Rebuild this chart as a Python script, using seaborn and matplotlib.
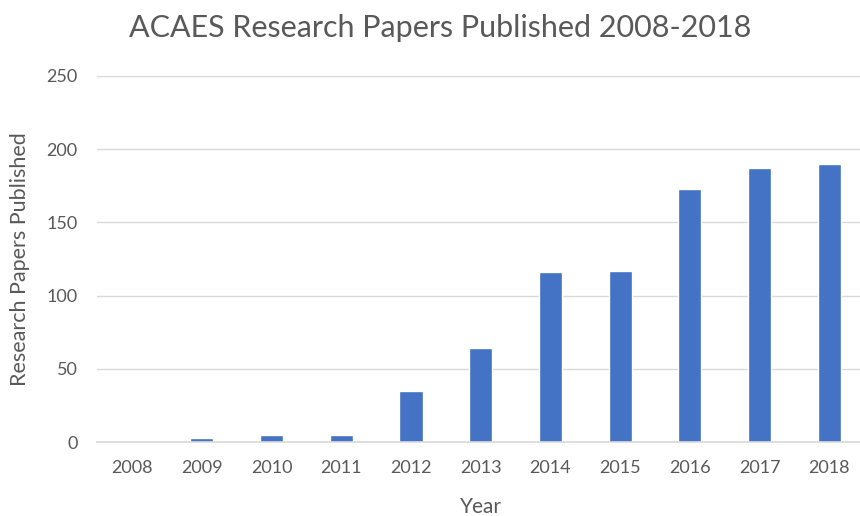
import matplotlib
matplotlib.use("Agg")
import matplotlib.pyplot as plt
import seaborn as sns
import pandas as pd

years = ["2008", "2009", "2010", "2011", "2012", "2013", "2014", "2015", "2016", "2017", "2018"]
papers = [0, 3, 5, 5, 35, 64, 116, 117, 173, 187, 190]
yticks = [0, 50, 100, 150, 200, 250]

sns.set_theme(style="white")
plt.rcParams['font.family'] = ['Lato', 'DejaVu Sans']

df = pd.DataFrame({"Year": years, "Papers": papers})

fig = plt.figure(figsize=(8.6, 5.16), dpi=100)
ax = fig.add_axes([0.113, 0.143, 0.892, 0.71])
sns.barplot(data=df, x="Year", y="Papers", color="#4472C4", width=0.33, ax=ax, saturation=1)
ax.set_xlim(-0.5, 10.5)
ax.set_ylim(0, 250)
ax.set_yticks(yticks)
ax.yaxis.grid(True, color="#D9D9D9", linewidth=1)
ax.set_axisbelow(True)
for s in ["top", "right", "left"]:
    ax.spines[s].set_visible(False)
ax.spines["bottom"].set_color("#D9D9D9")
ax.spines["bottom"].set_linewidth(1.2)
ax.tick_params(axis="both", length=0, colors="#595959", labelsize=13)
ax.tick_params(axis="x", pad=13)
ax.tick_params(axis="y", pad=14)
ax.set_xlabel("Year", fontsize=15, color="#595959", labelpad=15)
ax.set_ylabel("Research Papers Published", fontsize=15.5, color="#595959", labelpad=12)
fig.text(0.512, 0.945, "ACAES Research Papers Published 2008-2018", ha="center", va="center",
         fontsize=22, color="#595959")
fig.savefig("out.png", dpi=100)
